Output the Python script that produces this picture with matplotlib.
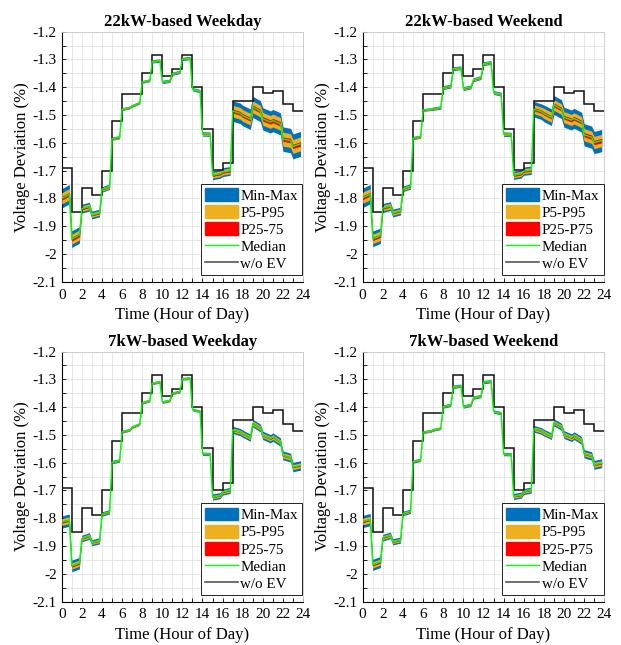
import numpy as np
import matplotlib
matplotlib.use("Agg")
import matplotlib.pyplot as plt
from matplotlib.patches import Patch
from matplotlib.lines import Line2D
from matplotlib.ticker import MultipleLocator, FormatStrFormatter

plt.rcParams['font.family'] = ['Liberation Serif', 'DejaVu Serif']

hours = np.arange(24)

# voltage deviation without EVs (hourly steps, same for all panels)
wo_ev = [-1.690, -1.850, -1.763, -1.788, -1.700, -1.523, -1.423, -1.423,
         -1.349, -1.283, -1.360, -1.335, -1.283, -1.398, -1.549, -1.698,
         -1.673, -1.448, -1.448, -1.399, -1.421, -1.412, -1.461, -1.486]

# ---- 22kW weekday ----
med22wd_start = [-1.800, -1.947, -1.837, -1.860, -1.768, -1.585, -1.479, -1.467,
                 -1.381, -1.307, -1.381, -1.351, -1.298, -1.407, -1.568, -1.717,
                 -1.706, -1.486, -1.502, -1.471, -1.514, -1.520, -1.587, -1.613]
med22wd_end = [-1.785, -1.932, -1.830, -1.853, -1.758, -1.580, -1.473, -1.456,
               -1.375, -1.304, -1.377, -1.345, -1.295, -1.414, -1.569, -1.712,
               -1.701, -1.494, -1.515, -1.486, -1.525, -1.532, -1.592, -1.604]
mm22wd = [0.035, 0.030, 0.016, 0.014, 0.010, 0.006, 0.005, 0.005, 0.005, 0.006,
          0.006, 0.006, 0.006, 0.006, 0.008, 0.016, 0.016, 0.037, 0.037, 0.038,
          0.040, 0.040, 0.044, 0.045]
p95_22wd = [0.020, 0.018, 0.010, 0.008, 0.006, 0.004, 0.003, 0.003, 0.003, 0.003,
            0.003, 0.003, 0.003, 0.003, 0.005, 0.010, 0.010, 0.021, 0.021, 0.021,
            0.023, 0.023, 0.025, 0.025]
p75_22wd = [0.007, 0.007, 0.004, 0.003, 0.002, 0.0015, 0.001, 0.001, 0.001, 0.001,
            0.001, 0.001, 0.001, 0.001, 0.002, 0.004, 0.004, 0.007, 0.007, 0.007,
            0.008, 0.008, 0.008, 0.008]

# ---- 22kW weekend ----
med22we_start = [-1.798, -1.946, -1.835, -1.853, -1.766, -1.583, -1.482, -1.477,
                 -1.401, -1.333, -1.405, -1.373, -1.315, -1.419, -1.569, -1.717,
                 -1.702, -1.479, -1.494, -1.464, -1.508, -1.512, -1.571, -1.599]
med22we_end = [-1.785, -1.935, -1.828, -1.846, -1.757, -1.578, -1.479, -1.473,
               -1.396, -1.330, -1.399, -1.365, -1.311, -1.425, -1.570, -1.712,
               -1.699, -1.488, -1.508, -1.479, -1.518, -1.526, -1.580, -1.592]
mm22we = [0.035, 0.028, 0.016, 0.014, 0.010, 0.006, 0.005, 0.006, 0.007, 0.007,
          0.007, 0.007, 0.007, 0.007, 0.008, 0.015, 0.015, 0.028, 0.030, 0.034,
          0.036, 0.036, 0.040, 0.040]
p95_22we = [0.020, 0.017, 0.010, 0.008, 0.006, 0.004, 0.003, 0.003, 0.004, 0.004,
            0.004, 0.004, 0.004, 0.004, 0.005, 0.009, 0.009, 0.016, 0.018, 0.019,
            0.020, 0.020, 0.022, 0.022]
p75_22we = [0.007, 0.006, 0.004, 0.003, 0.002, 0.0015, 0.001, 0.001, 0.0015, 0.0015,
            0.0015, 0.0015, 0.0015, 0.0015, 0.002, 0.004, 0.004, 0.006, 0.006, 0.007,
            0.007, 0.007, 0.008, 0.008]

# ---- 7kW weekday ----
med7wd_start = [-1.814, -1.972, -1.873, -1.888, -1.785, -1.598, -1.489, -1.472,
                -1.385, -1.314, -1.382, -1.350, -1.298, -1.409, -1.568, -1.724,
                -1.706, -1.482, -1.496, -1.458, -1.502, -1.508, -1.574, -1.616]
med7wd_end = [-1.807, -1.962, -1.864, -1.882, -1.777, -1.592, -1.482, -1.461,
              -1.376, -1.309, -1.376, -1.344, -1.296, -1.415, -1.569, -1.719,
              -1.700, -1.490, -1.510, -1.475, -1.514, -1.526, -1.582, -1.610]
mm7wd = [0.022, 0.021, 0.012, 0.011, 0.008, 0.006, 0.005, 0.005, 0.005, 0.005,
         0.005, 0.005, 0.005, 0.005, 0.006, 0.011, 0.011, 0.013, 0.013, 0.014,
         0.015, 0.015, 0.016, 0.017]
p95_7wd = [0.012, 0.011, 0.007, 0.006, 0.004, 0.003, 0.003, 0.003, 0.003, 0.003,
           0.003, 0.003, 0.003, 0.003, 0.003, 0.006, 0.006, 0.007, 0.007, 0.008,
           0.008, 0.008, 0.009, 0.009]
p75_7wd = [0.004, 0.004, 0.0025, 0.002, 0.0015, 0.001, 0.001, 0.001, 0.001, 0.001,
           0.001, 0.001, 0.001, 0.001, 0.001, 0.002, 0.002, 0.0025, 0.0025, 0.003,
           0.003, 0.003, 0.003, 0.003]

# ---- 7kW weekend ----
med7we_start = [-1.812, -1.968, -1.870, -1.885, -1.783, -1.596, -1.490, -1.482,
                -1.398, -1.327, -1.398, -1.366, -1.310, -1.416, -1.569, -1.722,
                -1.704, -1.478, -1.492, -1.455, -1.499, -1.503, -1.568, -1.608]
med7we_end = [-1.805, -1.958, -1.862, -1.879, -1.775, -1.590, -1.486, -1.476,
              -1.392, -1.323, -1.392, -1.360, -1.307, -1.422, -1.570, -1.717,
              -1.699, -1.486, -1.505, -1.471, -1.510, -1.520, -1.576, -1.602]
mm7we = [0.022, 0.020, 0.012, 0.011, 0.008, 0.006, 0.005, 0.005, 0.006, 0.006,
         0.006, 0.006, 0.006, 0.006, 0.006, 0.011, 0.011, 0.012, 0.012, 0.013,
         0.014, 0.014, 0.015, 0.016]
p95_7we = [0.012, 0.011, 0.007, 0.006, 0.004, 0.003, 0.003, 0.003, 0.003, 0.003,
           0.003, 0.003, 0.003, 0.003, 0.003, 0.006, 0.006, 0.007, 0.007, 0.007,
           0.008, 0.008, 0.008, 0.009]
p75_7we = [0.004, 0.004, 0.0025, 0.002, 0.0015, 0.001, 0.001, 0.001, 0.001, 0.001,
           0.001, 0.001, 0.001, 0.001, 0.001, 0.002, 0.002, 0.0025, 0.0025, 0.003,
           0.003, 0.003, 0.003, 0.003]

titles = ['22kW-based Weekday', '22kW-based Weekend', '7kW-based Weekday', '7kW-based Weekend']
iqr_labels = ['P25-75', 'P25-P75', 'P25-75', 'P25-P75']
panels = [
    (med22wd_start, med22wd_end, mm22wd, p95_22wd, p75_22wd),
    (med22we_start, med22we_end, mm22we, p95_22we, p75_22we),
    (med7wd_start, med7wd_end, mm7wd, p95_7wd, p75_7wd),
    (med7we_start, med7we_end, mm7we, p95_7we, p75_7we),
]

C_BLUE = '#0072BD'
C_ORANGE = '#EDB120'
C_RED = '#FF0000'
C_GREEN = '#00FF00'

fig = plt.figure(figsize=(6.21, 6.45), dpi=100)
positions = [[0.0994, 0.5633, 0.3886, 0.3876], [0.584, 0.5633, 0.389, 0.3876],
             [0.0994, 0.0674, 0.3886, 0.3876], [0.584, 0.0674, 0.389, 0.3876]]

# each hour: value at start of hour and at 45 min (15-min samples)
t = np.column_stack([hours, hours + 0.75]).ravel()

for k, (ms, me, mm, p95, p75) in enumerate(panels):
    ax = fig.add_axes(positions[k])
    med = np.column_stack([ms, me]).ravel()
    w1 = np.repeat(mm, 2)
    w2 = np.repeat(p95, 2)
    w3 = np.repeat(p75, 2)
    ax.fill_between(t, med - w1, med + w1, color=C_BLUE, lw=0, zorder=2)
    ax.fill_between(t, med - w2, med + w2, color=C_ORANGE, lw=0, zorder=3)
    ax.fill_between(t, med - w3, med + w3, color=C_RED, lw=0, zorder=4)
    ax.stairs(wo_ev, np.arange(25), baseline=None, color='#111111', lw=1.1, zorder=5)
    ax.plot(t, med, color=C_GREEN, lw=1.0, zorder=6)

    ax.set_xlim(0, 24)
    ax.set_ylim(-2.1, -1.2)
    ax.xaxis.set_major_locator(MultipleLocator(2))
    ax.xaxis.set_minor_locator(MultipleLocator(1))
    ax.yaxis.set_major_locator(MultipleLocator(0.1))
    ax.yaxis.set_minor_locator(MultipleLocator(0.05))
    ax.yaxis.set_major_formatter(FormatStrFormatter('%g'))
    ax.tick_params(which='both', direction='in', length=3, width=0.6,
                   labelsize=11, top=False, right=False)
    ax.tick_params(axis='x', pad=5)
    ax.grid(which='major', color='#e3e3e3', lw=0.6)
    ax.grid(which='minor', color='#e3e3e3', lw=0.6)
    ax.set_axisbelow(True)
    for s in ['top', 'right']:
        ax.spines[s].set_color('#c8c8c8')
        ax.spines[s].set_linewidth(0.6)
    for s in ['left', 'bottom']:
        ax.spines[s].set_linewidth(0.8)

    ax.set_title(titles[k], fontsize=12, fontweight='bold', pad=4)
    ax.set_xlabel('Time (Hour of Day)', fontsize=12, labelpad=4)
    ax.set_ylabel('Voltage Deviation (%)', fontsize=12, labelpad=2)

    handles = [Patch(color=C_BLUE), Patch(color=C_ORANGE), Patch(color=C_RED),
               Line2D([], [], color=C_GREEN, lw=1.0), Line2D([], [], color='#555555', lw=1.2)]
    labels = ['Min-Max', 'P5-P95', iqr_labels[k], 'Median', 'w/o EV']
    leg = ax.legend(handles, labels, loc='lower right', bbox_to_anchor=(0.997, 0.025),
                    borderaxespad=0, fontsize=10.8, fancybox=False, framealpha=1,
                    edgecolor='#222222', handlelength=2.2, handleheight=0.9,
                    handletextpad=0.15, labelspacing=0.18, borderpad=0.3)
    leg.get_frame().set_linewidth(0.7)
    leg.set_zorder(10)

fig.savefig('out.png', dpi=100)
